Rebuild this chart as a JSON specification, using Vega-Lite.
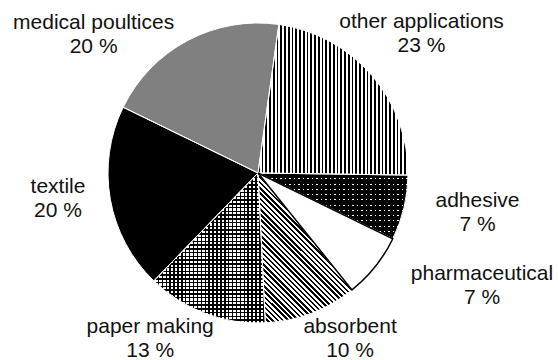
{
  "$schema": "https://vega.github.io/schema/vega-lite/v6.json",
  "width": 516,
  "height": 346,
  "padding": {"left": 0, "top": 0, "right": 42, "bottom": 14},
  "autosize": {"type": "none"},
  "background": "white",
  "config": {
    "view": {"stroke": null},
    "text": {"font": "Liberation Sans", "fontSize": 21, "lineHeight": 24, "lineBreak": "\n", "align": "center", "baseline": "middle", "fill": "#111"}
  },
  "data": {
    "values": [
      {"cat": "other applications", "pct": 23, "idx": 1},
      {"cat": "adhesive", "pct": 7, "idx": 2},
      {"cat": "pharmaceutical", "pct": 7, "idx": 3},
      {"cat": "absorbent", "pct": 10, "idx": 4},
      {"cat": "paper making", "pct": 13, "idx": 5},
      {"cat": "textile", "pct": 20, "idx": 6},
      {"cat": "medical poultices", "pct": 20, "idx": 7}
    ]
  },
  "transform": [{"calculate": "datum.cat + '\\n' + datum.pct + ' %'", "as": "label"}],
  "encoding": {
    "theta": {"field": "pct", "type": "quantitative", "stack": true, "scale": {"domain": [0, 100], "range": [0.1396, 6.4228]}},
    "order": {"field": "idx", "type": "quantitative"},
    "detail": {"field": "cat", "type": "nominal"}
  },
  "layer": [
    {
      "mark": {"type": "arc", "outerRadius": 150},
      "encoding": {
        "fill": {
          "condition": [
            {"test": "datum.cat === 'textile'", "value": "#000"},
            {"test": "datum.cat === 'medical poultices'", "value": "#808080"}
          ],
          "value": "#fff"
        }
      }
    },
    {
      "mark": {"type": "arc", "outerRadius": 150},
      "encoding": {
        "fill": {
          "condition": [
            {"test": "datum.cat === 'other applications'", "value": {"gradient": "linear", "x1": 0, "y1": 0, "x2": 1, "y2": 0, "stops": [
              {"offset":0,"color":"#000"},{"offset":0.011,"color":"#000"},{"offset":0.011,"color":"transparent"},{"offset":0.025,"color":"transparent"},
              {"offset":0.025,"color":"#000"},{"offset":0.036,"color":"#000"},{"offset":0.036,"color":"transparent"},{"offset":0.05,"color":"transparent"},
              {"offset":0.05,"color":"#000"},{"offset":0.061,"color":"#000"},{"offset":0.061,"color":"transparent"},{"offset":0.075,"color":"transparent"},
              {"offset":0.075,"color":"#000"},{"offset":0.086,"color":"#000"},{"offset":0.086,"color":"transparent"},{"offset":0.1,"color":"transparent"},
              {"offset":0.1,"color":"#000"},{"offset":0.111,"color":"#000"},{"offset":0.111,"color":"transparent"},{"offset":0.125,"color":"transparent"},
              {"offset":0.125,"color":"#000"},{"offset":0.136,"color":"#000"},{"offset":0.136,"color":"transparent"},{"offset":0.15,"color":"transparent"},
              {"offset":0.15,"color":"#000"},{"offset":0.161,"color":"#000"},{"offset":0.161,"color":"transparent"},{"offset":0.175,"color":"transparent"},
              {"offset":0.175,"color":"#000"},{"offset":0.186,"color":"#000"},{"offset":0.186,"color":"transparent"},{"offset":0.2,"color":"transparent"},
              {"offset":0.2,"color":"#000"},{"offset":0.211,"color":"#000"},{"offset":0.211,"color":"transparent"},{"offset":0.225,"color":"transparent"},
              {"offset":0.225,"color":"#000"},{"offset":0.236,"color":"#000"},{"offset":0.236,"color":"transparent"},{"offset":0.25,"color":"transparent"},
              {"offset":0.25,"color":"#000"},{"offset":0.261,"color":"#000"},{"offset":0.261,"color":"transparent"},{"offset":0.275,"color":"transparent"},
              {"offset":0.275,"color":"#000"},{"offset":0.286,"color":"#000"},{"offset":0.286,"color":"transparent"},{"offset":0.3,"color":"transparent"},
              {"offset":0.3,"color":"#000"},{"offset":0.311,"color":"#000"},{"offset":0.311,"color":"transparent"},{"offset":0.325,"color":"transparent"},
              {"offset":0.325,"color":"#000"},{"offset":0.336,"color":"#000"},{"offset":0.336,"color":"transparent"},{"offset":0.35,"color":"transparent"},
              {"offset":0.35,"color":"#000"},{"offset":0.361,"color":"#000"},{"offset":0.361,"color":"transparent"},{"offset":0.375,"color":"transparent"},
              {"offset":0.375,"color":"#000"},{"offset":0.386,"color":"#000"},{"offset":0.386,"color":"transparent"},{"offset":0.4,"color":"transparent"},
              {"offset":0.4,"color":"#000"},{"offset":0.411,"color":"#000"},{"offset":0.411,"color":"transparent"},{"offset":0.425,"color":"transparent"},
              {"offset":0.425,"color":"#000"},{"offset":0.436,"color":"#000"},{"offset":0.436,"color":"transparent"},{"offset":0.45,"color":"transparent"},
              {"offset":0.45,"color":"#000"},{"offset":0.461,"color":"#000"},{"offset":0.461,"color":"transparent"},{"offset":0.475,"color":"transparent"},
              {"offset":0.475,"color":"#000"},{"offset":0.486,"color":"#000"},{"offset":0.486,"color":"transparent"},{"offset":0.5,"color":"transparent"},
              {"offset":0.5,"color":"#000"},{"offset":0.511,"color":"#000"},{"offset":0.511,"color":"transparent"},{"offset":0.525,"color":"transparent"},
              {"offset":0.525,"color":"#000"},{"offset":0.536,"color":"#000"},{"offset":0.536,"color":"transparent"},{"offset":0.55,"color":"transparent"},
              {"offset":0.55,"color":"#000"},{"offset":0.561,"color":"#000"},{"offset":0.561,"color":"transparent"},{"offset":0.575,"color":"transparent"},
              {"offset":0.575,"color":"#000"},{"offset":0.586,"color":"#000"},{"offset":0.586,"color":"transparent"},{"offset":0.6,"color":"transparent"},
              {"offset":0.6,"color":"#000"},{"offset":0.611,"color":"#000"},{"offset":0.611,"color":"transparent"},{"offset":0.625,"color":"transparent"},
              {"offset":0.625,"color":"#000"},{"offset":0.636,"color":"#000"},{"offset":0.636,"color":"transparent"},{"offset":0.65,"color":"transparent"},
              {"offset":0.65,"color":"#000"},{"offset":0.661,"color":"#000"},{"offset":0.661,"color":"transparent"},{"offset":0.675,"color":"transparent"},
              {"offset":0.675,"color":"#000"},{"offset":0.686,"color":"#000"},{"offset":0.686,"color":"transparent"},{"offset":0.7,"color":"transparent"},
              {"offset":0.7,"color":"#000"},{"offset":0.711,"color":"#000"},{"offset":0.711,"color":"transparent"},{"offset":0.725,"color":"transparent"},
              {"offset":0.725,"color":"#000"},{"offset":0.736,"color":"#000"},{"offset":0.736,"color":"transparent"},{"offset":0.75,"color":"transparent"},
              {"offset":0.75,"color":"#000"},{"offset":0.761,"color":"#000"},{"offset":0.761,"color":"transparent"},{"offset":0.775,"color":"transparent"},
              {"offset":0.775,"color":"#000"},{"offset":0.786,"color":"#000"},{"offset":0.786,"color":"transparent"},{"offset":0.8,"color":"transparent"},
              {"offset":0.8,"color":"#000"},{"offset":0.811,"color":"#000"},{"offset":0.811,"color":"transparent"},{"offset":0.825,"color":"transparent"},
              {"offset":0.825,"color":"#000"},{"offset":0.836,"color":"#000"},{"offset":0.836,"color":"transparent"},{"offset":0.85,"color":"transparent"},
              {"offset":0.85,"color":"#000"},{"offset":0.861,"color":"#000"},{"offset":0.861,"color":"transparent"},{"offset":0.875,"color":"transparent"},
              {"offset":0.875,"color":"#000"},{"offset":0.886,"color":"#000"},{"offset":0.886,"color":"transparent"},{"offset":0.9,"color":"transparent"},
              {"offset":0.9,"color":"#000"},{"offset":0.911,"color":"#000"},{"offset":0.911,"color":"transparent"},{"offset":0.925,"color":"transparent"},
              {"offset":0.925,"color":"#000"},{"offset":0.936,"color":"#000"},{"offset":0.936,"color":"transparent"},{"offset":0.95,"color":"transparent"},
              {"offset":0.95,"color":"#000"},{"offset":0.961,"color":"#000"},{"offset":0.961,"color":"transparent"},{"offset":0.975,"color":"transparent"},
              {"offset":0.975,"color":"#000"},{"offset":0.986,"color":"#000"},{"offset":0.986,"color":"transparent"},{"offset":1,"color":"transparent"}
            ]}},
            {"test": "datum.cat === 'adhesive'", "value": {"gradient": "linear", "x1": 0, "y1": 0, "x2": 1, "y2": 0, "stops": [
              {"offset":0,"color":"transparent"},{"offset":0.007,"color":"transparent"},{"offset":0.007,"color":"#000"},{"offset":0.03,"color":"#000"},
              {"offset":0.03,"color":"transparent"},{"offset":0.037,"color":"transparent"},{"offset":0.037,"color":"#000"},{"offset":0.06,"color":"#000"},
              {"offset":0.06,"color":"transparent"},{"offset":0.067,"color":"transparent"},{"offset":0.067,"color":"#000"},{"offset":0.09,"color":"#000"},
              {"offset":0.09,"color":"transparent"},{"offset":0.097,"color":"transparent"},{"offset":0.097,"color":"#000"},{"offset":0.12,"color":"#000"},
              {"offset":0.12,"color":"transparent"},{"offset":0.127,"color":"transparent"},{"offset":0.127,"color":"#000"},{"offset":0.15,"color":"#000"},
              {"offset":0.15,"color":"transparent"},{"offset":0.157,"color":"transparent"},{"offset":0.157,"color":"#000"},{"offset":0.18,"color":"#000"},
              {"offset":0.18,"color":"transparent"},{"offset":0.187,"color":"transparent"},{"offset":0.187,"color":"#000"},{"offset":0.21,"color":"#000"},
              {"offset":0.21,"color":"transparent"},{"offset":0.217,"color":"transparent"},{"offset":0.217,"color":"#000"},{"offset":0.24,"color":"#000"},
              {"offset":0.24,"color":"transparent"},{"offset":0.247,"color":"transparent"},{"offset":0.247,"color":"#000"},{"offset":0.27,"color":"#000"},
              {"offset":0.27,"color":"transparent"},{"offset":0.277,"color":"transparent"},{"offset":0.277,"color":"#000"},{"offset":0.3,"color":"#000"},
              {"offset":0.3,"color":"transparent"},{"offset":0.307,"color":"transparent"},{"offset":0.307,"color":"#000"},{"offset":0.33,"color":"#000"},
              {"offset":0.33,"color":"transparent"},{"offset":0.337,"color":"transparent"},{"offset":0.337,"color":"#000"},{"offset":0.36,"color":"#000"},
              {"offset":0.36,"color":"transparent"},{"offset":0.367,"color":"transparent"},{"offset":0.367,"color":"#000"},{"offset":0.39,"color":"#000"},
              {"offset":0.39,"color":"transparent"},{"offset":0.397,"color":"transparent"},{"offset":0.397,"color":"#000"},{"offset":0.42,"color":"#000"},
              {"offset":0.42,"color":"transparent"},{"offset":0.427,"color":"transparent"},{"offset":0.427,"color":"#000"},{"offset":0.45,"color":"#000"},
              {"offset":0.45,"color":"transparent"},{"offset":0.457,"color":"transparent"},{"offset":0.457,"color":"#000"},{"offset":0.48,"color":"#000"},
              {"offset":0.48,"color":"transparent"},{"offset":0.487,"color":"transparent"},{"offset":0.487,"color":"#000"},{"offset":0.51,"color":"#000"},
              {"offset":0.51,"color":"transparent"},{"offset":0.517,"color":"transparent"},{"offset":0.517,"color":"#000"},{"offset":0.54,"color":"#000"},
              {"offset":0.54,"color":"transparent"},{"offset":0.547,"color":"transparent"},{"offset":0.547,"color":"#000"},{"offset":0.57,"color":"#000"},
              {"offset":0.57,"color":"transparent"},{"offset":0.577,"color":"transparent"},{"offset":0.577,"color":"#000"},{"offset":0.6,"color":"#000"},
              {"offset":0.6,"color":"transparent"},{"offset":0.607,"color":"transparent"},{"offset":0.607,"color":"#000"},{"offset":0.63,"color":"#000"},
              {"offset":0.63,"color":"transparent"},{"offset":0.637,"color":"transparent"},{"offset":0.637,"color":"#000"},{"offset":0.66,"color":"#000"},
              {"offset":0.66,"color":"transparent"},{"offset":0.667,"color":"transparent"},{"offset":0.667,"color":"#000"},{"offset":0.69,"color":"#000"},
              {"offset":0.69,"color":"transparent"},{"offset":0.697,"color":"transparent"},{"offset":0.697,"color":"#000"},{"offset":0.72,"color":"#000"},
              {"offset":0.72,"color":"transparent"},{"offset":0.727,"color":"transparent"},{"offset":0.727,"color":"#000"},{"offset":0.75,"color":"#000"},
              {"offset":0.75,"color":"transparent"},{"offset":0.757,"color":"transparent"},{"offset":0.757,"color":"#000"},{"offset":0.78,"color":"#000"},
              {"offset":0.78,"color":"transparent"},{"offset":0.787,"color":"transparent"},{"offset":0.787,"color":"#000"},{"offset":0.81,"color":"#000"},
              {"offset":0.81,"color":"transparent"},{"offset":0.817,"color":"transparent"},{"offset":0.817,"color":"#000"},{"offset":0.84,"color":"#000"},
              {"offset":0.84,"color":"transparent"},{"offset":0.847,"color":"transparent"},{"offset":0.847,"color":"#000"},{"offset":0.87,"color":"#000"},
              {"offset":0.87,"color":"transparent"},{"offset":0.877,"color":"transparent"},{"offset":0.877,"color":"#000"},{"offset":0.9,"color":"#000"},
              {"offset":0.9,"color":"transparent"},{"offset":0.907,"color":"transparent"},{"offset":0.907,"color":"#000"},{"offset":0.93,"color":"#000"},
              {"offset":0.93,"color":"transparent"},{"offset":0.937,"color":"transparent"},{"offset":0.937,"color":"#000"},{"offset":0.96,"color":"#000"},
              {"offset":0.96,"color":"transparent"},{"offset":0.967,"color":"transparent"},{"offset":0.967,"color":"#000"},{"offset":0.99,"color":"#000"},
              {"offset":0.99,"color":"transparent"},{"offset":0.997,"color":"transparent"},{"offset":0.997,"color":"#000"},{"offset":1,"color":"#000"}
            ]}},
            {"test": "datum.cat === 'absorbent'", "value": {"gradient": "linear", "x1": 0, "y1": 1, "x2": 0.627, "y2": 0, "stops": [
              {"offset":0,"color":"#000"},{"offset":0.012,"color":"#000"},{"offset":0.012,"color":"transparent"},{"offset":0.025,"color":"transparent"},
              {"offset":0.025,"color":"#000"},{"offset":0.037,"color":"#000"},{"offset":0.037,"color":"transparent"},{"offset":0.05,"color":"transparent"},
              {"offset":0.05,"color":"#000"},{"offset":0.062,"color":"#000"},{"offset":0.062,"color":"transparent"},{"offset":0.075,"color":"transparent"},
              {"offset":0.075,"color":"#000"},{"offset":0.087,"color":"#000"},{"offset":0.087,"color":"transparent"},{"offset":0.1,"color":"transparent"},
              {"offset":0.1,"color":"#000"},{"offset":0.112,"color":"#000"},{"offset":0.112,"color":"transparent"},{"offset":0.125,"color":"transparent"},
              {"offset":0.125,"color":"#000"},{"offset":0.137,"color":"#000"},{"offset":0.137,"color":"transparent"},{"offset":0.15,"color":"transparent"},
              {"offset":0.15,"color":"#000"},{"offset":0.162,"color":"#000"},{"offset":0.162,"color":"transparent"},{"offset":0.175,"color":"transparent"},
              {"offset":0.175,"color":"#000"},{"offset":0.187,"color":"#000"},{"offset":0.187,"color":"transparent"},{"offset":0.2,"color":"transparent"},
              {"offset":0.2,"color":"#000"},{"offset":0.212,"color":"#000"},{"offset":0.212,"color":"transparent"},{"offset":0.225,"color":"transparent"},
              {"offset":0.225,"color":"#000"},{"offset":0.237,"color":"#000"},{"offset":0.237,"color":"transparent"},{"offset":0.25,"color":"transparent"},
              {"offset":0.25,"color":"#000"},{"offset":0.262,"color":"#000"},{"offset":0.262,"color":"transparent"},{"offset":0.275,"color":"transparent"},
              {"offset":0.275,"color":"#000"},{"offset":0.287,"color":"#000"},{"offset":0.287,"color":"transparent"},{"offset":0.3,"color":"transparent"},
              {"offset":0.3,"color":"#000"},{"offset":0.312,"color":"#000"},{"offset":0.312,"color":"transparent"},{"offset":0.325,"color":"transparent"},
              {"offset":0.325,"color":"#000"},{"offset":0.337,"color":"#000"},{"offset":0.337,"color":"transparent"},{"offset":0.35,"color":"transparent"},
              {"offset":0.35,"color":"#000"},{"offset":0.362,"color":"#000"},{"offset":0.362,"color":"transparent"},{"offset":0.375,"color":"transparent"},
              {"offset":0.375,"color":"#000"},{"offset":0.387,"color":"#000"},{"offset":0.387,"color":"transparent"},{"offset":0.4,"color":"transparent"},
              {"offset":0.4,"color":"#000"},{"offset":0.412,"color":"#000"},{"offset":0.412,"color":"transparent"},{"offset":0.425,"color":"transparent"},
              {"offset":0.425,"color":"#000"},{"offset":0.437,"color":"#000"},{"offset":0.437,"color":"transparent"},{"offset":0.45,"color":"transparent"},
              {"offset":0.45,"color":"#000"},{"offset":0.462,"color":"#000"},{"offset":0.462,"color":"transparent"},{"offset":0.475,"color":"transparent"},
              {"offset":0.475,"color":"#000"},{"offset":0.487,"color":"#000"},{"offset":0.487,"color":"transparent"},{"offset":0.5,"color":"transparent"},
              {"offset":0.5,"color":"#000"},{"offset":0.512,"color":"#000"},{"offset":0.512,"color":"transparent"},{"offset":0.525,"color":"transparent"},
              {"offset":0.525,"color":"#000"},{"offset":0.537,"color":"#000"},{"offset":0.537,"color":"transparent"},{"offset":0.55,"color":"transparent"},
              {"offset":0.55,"color":"#000"},{"offset":0.562,"color":"#000"},{"offset":0.562,"color":"transparent"},{"offset":0.575,"color":"transparent"},
              {"offset":0.575,"color":"#000"},{"offset":0.587,"color":"#000"},{"offset":0.587,"color":"transparent"},{"offset":0.6,"color":"transparent"},
              {"offset":0.6,"color":"#000"},{"offset":0.612,"color":"#000"},{"offset":0.612,"color":"transparent"},{"offset":0.625,"color":"transparent"},
              {"offset":0.625,"color":"#000"},{"offset":0.637,"color":"#000"},{"offset":0.637,"color":"transparent"},{"offset":0.65,"color":"transparent"},
              {"offset":0.65,"color":"#000"},{"offset":0.662,"color":"#000"},{"offset":0.662,"color":"transparent"},{"offset":0.675,"color":"transparent"},
              {"offset":0.675,"color":"#000"},{"offset":0.687,"color":"#000"},{"offset":0.687,"color":"transparent"},{"offset":0.7,"color":"transparent"},
              {"offset":0.7,"color":"#000"},{"offset":0.712,"color":"#000"},{"offset":0.712,"color":"transparent"},{"offset":0.725,"color":"transparent"},
              {"offset":0.725,"color":"#000"},{"offset":0.737,"color":"#000"},{"offset":0.737,"color":"transparent"},{"offset":0.75,"color":"transparent"},
              {"offset":0.75,"color":"#000"},{"offset":0.762,"color":"#000"},{"offset":0.762,"color":"transparent"},{"offset":1,"color":"transparent"}
            ]}},
            {"test": "datum.cat === 'paper making'", "value": {"gradient": "linear", "x1": 0, "y1": 0, "x2": 1, "y2": 0, "stops": [
              {"offset":0,"color":"#000"},{"offset":0.013,"color":"#000"},{"offset":0.013,"color":"transparent"},{"offset":0.035,"color":"transparent"},
              {"offset":0.035,"color":"#000"},{"offset":0.048,"color":"#000"},{"offset":0.048,"color":"transparent"},{"offset":0.07,"color":"transparent"},
              {"offset":0.07,"color":"#000"},{"offset":0.083,"color":"#000"},{"offset":0.083,"color":"transparent"},{"offset":0.105,"color":"transparent"},
              {"offset":0.105,"color":"#000"},{"offset":0.118,"color":"#000"},{"offset":0.118,"color":"transparent"},{"offset":0.14,"color":"transparent"},
              {"offset":0.14,"color":"#000"},{"offset":0.153,"color":"#000"},{"offset":0.153,"color":"transparent"},{"offset":0.175,"color":"transparent"},
              {"offset":0.175,"color":"#000"},{"offset":0.188,"color":"#000"},{"offset":0.188,"color":"transparent"},{"offset":0.21,"color":"transparent"},
              {"offset":0.21,"color":"#000"},{"offset":0.223,"color":"#000"},{"offset":0.223,"color":"transparent"},{"offset":0.245,"color":"transparent"},
              {"offset":0.245,"color":"#000"},{"offset":0.258,"color":"#000"},{"offset":0.258,"color":"transparent"},{"offset":0.28,"color":"transparent"},
              {"offset":0.28,"color":"#000"},{"offset":0.293,"color":"#000"},{"offset":0.293,"color":"transparent"},{"offset":0.315,"color":"transparent"},
              {"offset":0.315,"color":"#000"},{"offset":0.328,"color":"#000"},{"offset":0.328,"color":"transparent"},{"offset":0.35,"color":"transparent"},
              {"offset":0.35,"color":"#000"},{"offset":0.363,"color":"#000"},{"offset":0.363,"color":"transparent"},{"offset":0.385,"color":"transparent"},
              {"offset":0.385,"color":"#000"},{"offset":0.398,"color":"#000"},{"offset":0.398,"color":"transparent"},{"offset":0.42,"color":"transparent"},
              {"offset":0.42,"color":"#000"},{"offset":0.433,"color":"#000"},{"offset":0.433,"color":"transparent"},{"offset":0.455,"color":"transparent"},
              {"offset":0.455,"color":"#000"},{"offset":0.468,"color":"#000"},{"offset":0.468,"color":"transparent"},{"offset":0.49,"color":"transparent"},
              {"offset":0.49,"color":"#000"},{"offset":0.503,"color":"#000"},{"offset":0.503,"color":"transparent"},{"offset":0.525,"color":"transparent"},
              {"offset":0.525,"color":"#000"},{"offset":0.538,"color":"#000"},{"offset":0.538,"color":"transparent"},{"offset":0.56,"color":"transparent"},
              {"offset":0.56,"color":"#000"},{"offset":0.573,"color":"#000"},{"offset":0.573,"color":"transparent"},{"offset":0.595,"color":"transparent"},
              {"offset":0.595,"color":"#000"},{"offset":0.608,"color":"#000"},{"offset":0.608,"color":"transparent"},{"offset":0.63,"color":"transparent"},
              {"offset":0.63,"color":"#000"},{"offset":0.643,"color":"#000"},{"offset":0.643,"color":"transparent"},{"offset":0.665,"color":"transparent"},
              {"offset":0.665,"color":"#000"},{"offset":0.678,"color":"#000"},{"offset":0.678,"color":"transparent"},{"offset":0.7,"color":"transparent"},
              {"offset":0.7,"color":"#000"},{"offset":0.713,"color":"#000"},{"offset":0.713,"color":"transparent"},{"offset":0.735,"color":"transparent"},
              {"offset":0.735,"color":"#000"},{"offset":0.748,"color":"#000"},{"offset":0.748,"color":"transparent"},{"offset":0.77,"color":"transparent"},
              {"offset":0.77,"color":"#000"},{"offset":0.783,"color":"#000"},{"offset":0.783,"color":"transparent"},{"offset":0.805,"color":"transparent"},
              {"offset":0.805,"color":"#000"},{"offset":0.818,"color":"#000"},{"offset":0.818,"color":"transparent"},{"offset":0.84,"color":"transparent"},
              {"offset":0.84,"color":"#000"},{"offset":0.853,"color":"#000"},{"offset":0.853,"color":"transparent"},{"offset":0.875,"color":"transparent"},
              {"offset":0.875,"color":"#000"},{"offset":0.888,"color":"#000"},{"offset":0.888,"color":"transparent"},{"offset":0.91,"color":"transparent"},
              {"offset":0.91,"color":"#000"},{"offset":0.923,"color":"#000"},{"offset":0.923,"color":"transparent"},{"offset":0.945,"color":"transparent"},
              {"offset":0.945,"color":"#000"},{"offset":0.958,"color":"#000"},{"offset":0.958,"color":"transparent"},{"offset":0.98,"color":"transparent"},
              {"offset":0.98,"color":"#000"},{"offset":0.993,"color":"#000"},{"offset":0.993,"color":"transparent"},{"offset":1,"color":"transparent"}
            ]}}
          ],
          "value": "transparent"
        }
      }
    },
    {
      "mark": {"type": "arc", "outerRadius": 150},
      "encoding": {
        "fill": {
          "condition": [
            {"test": "datum.cat === 'adhesive'", "value": {"gradient": "linear", "x1": 0, "y1": 0, "x2": 0, "y2": 1, "stops": [
              {"offset":0,"color":"transparent"},{"offset":0.017,"color":"transparent"},{"offset":0.017,"color":"#000"},{"offset":0.08,"color":"#000"},
              {"offset":0.08,"color":"transparent"},{"offset":0.097,"color":"transparent"},{"offset":0.097,"color":"#000"},{"offset":0.16,"color":"#000"},
              {"offset":0.16,"color":"transparent"},{"offset":0.177,"color":"transparent"},{"offset":0.177,"color":"#000"},{"offset":0.24,"color":"#000"},
              {"offset":0.24,"color":"transparent"},{"offset":0.257,"color":"transparent"},{"offset":0.257,"color":"#000"},{"offset":0.32,"color":"#000"},
              {"offset":0.32,"color":"transparent"},{"offset":0.337,"color":"transparent"},{"offset":0.337,"color":"#000"},{"offset":0.4,"color":"#000"},
              {"offset":0.4,"color":"transparent"},{"offset":0.417,"color":"transparent"},{"offset":0.417,"color":"#000"},{"offset":0.48,"color":"#000"},
              {"offset":0.48,"color":"transparent"},{"offset":0.497,"color":"transparent"},{"offset":0.497,"color":"#000"},{"offset":0.56,"color":"#000"},
              {"offset":0.56,"color":"transparent"},{"offset":0.577,"color":"transparent"},{"offset":0.577,"color":"#000"},{"offset":0.64,"color":"#000"},
              {"offset":0.64,"color":"transparent"},{"offset":0.657,"color":"transparent"},{"offset":0.657,"color":"#000"},{"offset":0.72,"color":"#000"},
              {"offset":0.72,"color":"transparent"},{"offset":0.737,"color":"transparent"},{"offset":0.737,"color":"#000"},{"offset":0.8,"color":"#000"},
              {"offset":0.8,"color":"transparent"},{"offset":0.817,"color":"transparent"},{"offset":0.817,"color":"#000"},{"offset":0.88,"color":"#000"},
              {"offset":0.88,"color":"transparent"},{"offset":0.897,"color":"transparent"},{"offset":0.897,"color":"#000"},{"offset":0.96,"color":"#000"},
              {"offset":0.96,"color":"transparent"},{"offset":0.977,"color":"transparent"},{"offset":0.977,"color":"#000"},{"offset":1,"color":"#000"}
            ]}},
            {"test": "datum.cat === 'paper making'", "value": {"gradient": "linear", "x1": 0, "y1": 0, "x2": 0, "y2": 1, "stops": [
              {"offset":0,"color":"#000"},{"offset":0.01,"color":"#000"},{"offset":0.01,"color":"transparent"},{"offset":0.025,"color":"transparent"},
              {"offset":0.025,"color":"#000"},{"offset":0.035,"color":"#000"},{"offset":0.035,"color":"transparent"},{"offset":0.05,"color":"transparent"},
              {"offset":0.05,"color":"#000"},{"offset":0.06,"color":"#000"},{"offset":0.06,"color":"transparent"},{"offset":0.075,"color":"transparent"},
              {"offset":0.075,"color":"#000"},{"offset":0.085,"color":"#000"},{"offset":0.085,"color":"transparent"},{"offset":0.1,"color":"transparent"},
              {"offset":0.1,"color":"#000"},{"offset":0.11,"color":"#000"},{"offset":0.11,"color":"transparent"},{"offset":0.125,"color":"transparent"},
              {"offset":0.125,"color":"#000"},{"offset":0.135,"color":"#000"},{"offset":0.135,"color":"transparent"},{"offset":0.15,"color":"transparent"},
              {"offset":0.15,"color":"#000"},{"offset":0.16,"color":"#000"},{"offset":0.16,"color":"transparent"},{"offset":0.175,"color":"transparent"},
              {"offset":0.175,"color":"#000"},{"offset":0.185,"color":"#000"},{"offset":0.185,"color":"transparent"},{"offset":0.2,"color":"transparent"},
              {"offset":0.2,"color":"#000"},{"offset":0.21,"color":"#000"},{"offset":0.21,"color":"transparent"},{"offset":0.225,"color":"transparent"},
              {"offset":0.225,"color":"#000"},{"offset":0.235,"color":"#000"},{"offset":0.235,"color":"transparent"},{"offset":0.25,"color":"transparent"},
              {"offset":0.25,"color":"#000"},{"offset":0.26,"color":"#000"},{"offset":0.26,"color":"transparent"},{"offset":0.275,"color":"transparent"},
              {"offset":0.275,"color":"#000"},{"offset":0.285,"color":"#000"},{"offset":0.285,"color":"transparent"},{"offset":0.3,"color":"transparent"},
              {"offset":0.3,"color":"#000"},{"offset":0.31,"color":"#000"},{"offset":0.31,"color":"transparent"},{"offset":0.325,"color":"transparent"},
              {"offset":0.325,"color":"#000"},{"offset":0.335,"color":"#000"},{"offset":0.335,"color":"transparent"},{"offset":0.35,"color":"transparent"},
              {"offset":0.35,"color":"#000"},{"offset":0.36,"color":"#000"},{"offset":0.36,"color":"transparent"},{"offset":0.375,"color":"transparent"},
              {"offset":0.375,"color":"#000"},{"offset":0.385,"color":"#000"},{"offset":0.385,"color":"transparent"},{"offset":0.4,"color":"transparent"},
              {"offset":0.4,"color":"#000"},{"offset":0.41,"color":"#000"},{"offset":0.41,"color":"transparent"},{"offset":0.425,"color":"transparent"},
              {"offset":0.425,"color":"#000"},{"offset":0.435,"color":"#000"},{"offset":0.435,"color":"transparent"},{"offset":0.45,"color":"transparent"},
              {"offset":0.45,"color":"#000"},{"offset":0.46,"color":"#000"},{"offset":0.46,"color":"transparent"},{"offset":0.475,"color":"transparent"},
              {"offset":0.475,"color":"#000"},{"offset":0.485,"color":"#000"},{"offset":0.485,"color":"transparent"},{"offset":0.5,"color":"transparent"},
              {"offset":0.5,"color":"#000"},{"offset":0.51,"color":"#000"},{"offset":0.51,"color":"transparent"},{"offset":0.525,"color":"transparent"},
              {"offset":0.525,"color":"#000"},{"offset":0.535,"color":"#000"},{"offset":0.535,"color":"transparent"},{"offset":0.55,"color":"transparent"},
              {"offset":0.55,"color":"#000"},{"offset":0.56,"color":"#000"},{"offset":0.56,"color":"transparent"},{"offset":0.575,"color":"transparent"},
              {"offset":0.575,"color":"#000"},{"offset":0.585,"color":"#000"},{"offset":0.585,"color":"transparent"},{"offset":0.6,"color":"transparent"},
              {"offset":0.6,"color":"#000"},{"offset":0.61,"color":"#000"},{"offset":0.61,"color":"transparent"},{"offset":0.625,"color":"transparent"},
              {"offset":0.625,"color":"#000"},{"offset":0.635,"color":"#000"},{"offset":0.635,"color":"transparent"},{"offset":0.65,"color":"transparent"},
              {"offset":0.65,"color":"#000"},{"offset":0.66,"color":"#000"},{"offset":0.66,"color":"transparent"},{"offset":0.675,"color":"transparent"},
              {"offset":0.675,"color":"#000"},{"offset":0.685,"color":"#000"},{"offset":0.685,"color":"transparent"},{"offset":0.7,"color":"transparent"},
              {"offset":0.7,"color":"#000"},{"offset":0.71,"color":"#000"},{"offset":0.71,"color":"transparent"},{"offset":0.725,"color":"transparent"},
              {"offset":0.725,"color":"#000"},{"offset":0.735,"color":"#000"},{"offset":0.735,"color":"transparent"},{"offset":0.75,"color":"transparent"},
              {"offset":0.75,"color":"#000"},{"offset":0.76,"color":"#000"},{"offset":0.76,"color":"transparent"},{"offset":0.775,"color":"transparent"},
              {"offset":0.775,"color":"#000"},{"offset":0.785,"color":"#000"},{"offset":0.785,"color":"transparent"},{"offset":0.8,"color":"transparent"},
              {"offset":0.8,"color":"#000"},{"offset":0.81,"color":"#000"},{"offset":0.81,"color":"transparent"},{"offset":0.825,"color":"transparent"},
              {"offset":0.825,"color":"#000"},{"offset":0.835,"color":"#000"},{"offset":0.835,"color":"transparent"},{"offset":0.85,"color":"transparent"},
              {"offset":0.85,"color":"#000"},{"offset":0.86,"color":"#000"},{"offset":0.86,"color":"transparent"},{"offset":0.875,"color":"transparent"},
              {"offset":0.875,"color":"#000"},{"offset":0.885,"color":"#000"},{"offset":0.885,"color":"transparent"},{"offset":0.9,"color":"transparent"},
              {"offset":0.9,"color":"#000"},{"offset":0.91,"color":"#000"},{"offset":0.91,"color":"transparent"},{"offset":0.925,"color":"transparent"},
              {"offset":0.925,"color":"#000"},{"offset":0.935,"color":"#000"},{"offset":0.935,"color":"transparent"},{"offset":0.95,"color":"transparent"},
              {"offset":0.95,"color":"#000"},{"offset":0.96,"color":"#000"},{"offset":0.96,"color":"transparent"},{"offset":0.975,"color":"transparent"},
              {"offset":0.975,"color":"#000"},{"offset":0.985,"color":"#000"},{"offset":0.985,"color":"transparent"},{"offset":1,"color":"transparent"}
            ]}}
          ],
          "value": "transparent"
        }
      }
    },
    {
      "mark": {"type": "arc", "outerRadius": 150, "fill": "transparent", "stroke": "#fff", "strokeWidth": 1}
    },
    {
      "mark": {"type": "arc", "outerRadius": 150, "fill": "transparent", "strokeWidth": 1.5},
      "encoding": {
        "stroke": {"condition": {"test": "datum.cat === 'pharmaceutical'", "value": "#000"}, "value": null}
      }
    },
    {
      "mark": {"type": "text", "radius": 222.6, "thetaOffset": -0.037},
      "encoding": {"text": {"condition": {"test": "datum.cat === 'other applications'", "field": "label", "type": "nominal"}, "value": ""}}
    },
    {
      "mark": {"type": "text", "radius": 221.3, "thetaOffset": -0.106},
      "encoding": {"text": {"condition": {"test": "datum.cat === 'adhesive'", "field": "label", "type": "nominal"}, "value": ""}}
    },
    {
      "mark": {"type": "text", "radius": 245.7, "thetaOffset": -0.25},
      "encoding": {"text": {"condition": {"test": "datum.cat === 'pharmaceutical'", "field": "label", "type": "nominal"}, "value": ""}}
    },
    {
      "mark": {"type": "text", "radius": 179.4, "thetaOffset": -0.176},
      "encoding": {"text": {"condition": {"test": "datum.cat === 'absorbent'", "field": "label", "type": "nominal"}, "value": ""}}
    },
    {
      "mark": {"type": "text", "radius": 188.1, "thetaOffset": 0.251},
      "encoding": {"text": {"condition": {"test": "datum.cat === 'paper making'", "field": "label", "type": "nominal"}, "value": ""}}
    },
    {
      "mark": {"type": "text", "radius": 200.5, "thetaOffset": 0.105},
      "encoding": {"text": {"condition": {"test": "datum.cat === 'textile'", "field": "label", "type": "nominal"}, "value": ""}}
    },
    {
      "mark": {"type": "text", "radius": 222.6, "thetaOffset": -0.342},
      "encoding": {"text": {"condition": {"test": "datum.cat === 'medical poultices'", "field": "label", "type": "nominal"}, "value": ""}}
    }
  ]
}
